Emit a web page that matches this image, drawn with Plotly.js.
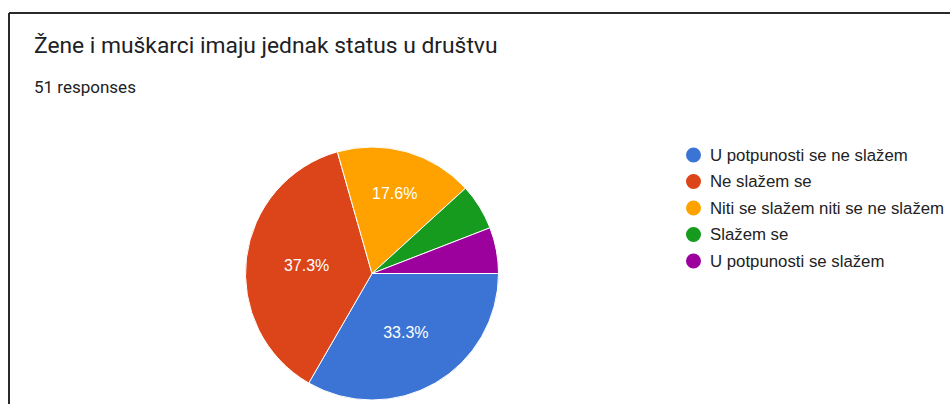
<!DOCTYPE html>
<html>
<head>
<meta charset="utf-8">
<script src="https://cdn.plot.ly/plotly-3.0.1.min.js"></script>
<style>
html,body{margin:0;padding:0;background:#fff;}
#chart{width:950px;height:404px;}
</style>
</head>
<body>
<div id="chart"></div>
<script>
const categories = ["U potpunosti se ne slažem", "Ne slažem se", "Niti se slažem niti se ne slažem", "Slažem se", "U potpunosti se slažem"];
const counts = [17, 19, 9, 3, 3];
const colors = ["#3b74d4", "#dc4419", "#ffa200", "#169b1e", "#9c009d"];
const titleText = "Žene i muškarci imaju jednak status u društvu";
const subtitleText = "51 responses";

const total = counts.reduce((a, b) => a + b, 0);
const templates = counts.map(v => (v / total >= 0.1 ? "%{percent:.1%}" : ""));

const trace = {
  type: "pie",
  labels: categories,
  values: counts,
  sort: false,
  direction: "clockwise",
  rotation: 90,
  marker: {colors: colors, line: {color: "#ffffff", width: 1}},
  texttemplate: templates,
  textposition: "inside",
  insidetextorientation: "horizontal",
  textfont: {family: "Arial, Liberation Sans, sans-serif", size: 16, color: "#ffffff"},
  hoverinfo: "label+percent",
  showlegend: false,
  domain: {x: [245 / 950, 499 / 950], y: [1 - 400 / 404, 1 - 147 / 404]}
};

const shapes = [
  {type: "line", xref: "paper", yref: "paper", x0: 9 / 950, x1: 1, y0: 1 - 13 / 404, y1: 1 - 13 / 404, line: {color: "#2a2a2a", width: 2}},
  {type: "line", xref: "paper", yref: "paper", x0: 9 / 950, x1: 9 / 950, y0: 1 - 13 / 404, y1: 0, line: {color: "#2a2a2a", width: 2}}
];

const annotations = [
  {text: titleText, xref: "paper", yref: "paper", x: 32 / 950, y: 1 - 46 / 404, xanchor: "left", yanchor: "middle", showarrow: false,
   font: {family: "Roboto, sans-serif", size: 22.8, color: "#202124"}},
  {text: subtitleText, xref: "paper", yref: "paper", x: 32 / 950, y: 1 - 87 / 404, xanchor: "left", yanchor: "middle", showarrow: false,
   font: {family: "Roboto, sans-serif", size: 17, color: "#202124"}}
];

// legend drawn as annotations + circle shapes keyed to categories
const legY0 = 155, legStep = 26.5;
categories.forEach((c, i) => {
  const yc = 1 - (legY0 + i * legStep) / 404;
  shapes.push({type: "circle", xref: "paper", yref: "paper",
    x0: 686 / 950, x1: 701 / 950, y0: yc - 7.5 / 404, y1: yc + 7.5 / 404,
    fillcolor: colors[i], line: {width: 0}});
  annotations.push({text: c, xref: "paper", yref: "paper", x: 708 / 950, y: yc, xanchor: "left", yanchor: "middle", showarrow: false,
    font: {family: "Arial, Liberation Sans, sans-serif", size: 16.8, color: "#222222"}});
});

const layout = {
  width: 950, height: 404,
  margin: {l: 0, r: 0, t: 0, b: 0},
  paper_bgcolor: "#ffffff",
  showlegend: false,
  shapes: shapes,
  annotations: annotations
};

Plotly.newPlot("chart", [trace], layout, {displayModeBar: false, staticPlot: true});
</script>
</body>
</html>
